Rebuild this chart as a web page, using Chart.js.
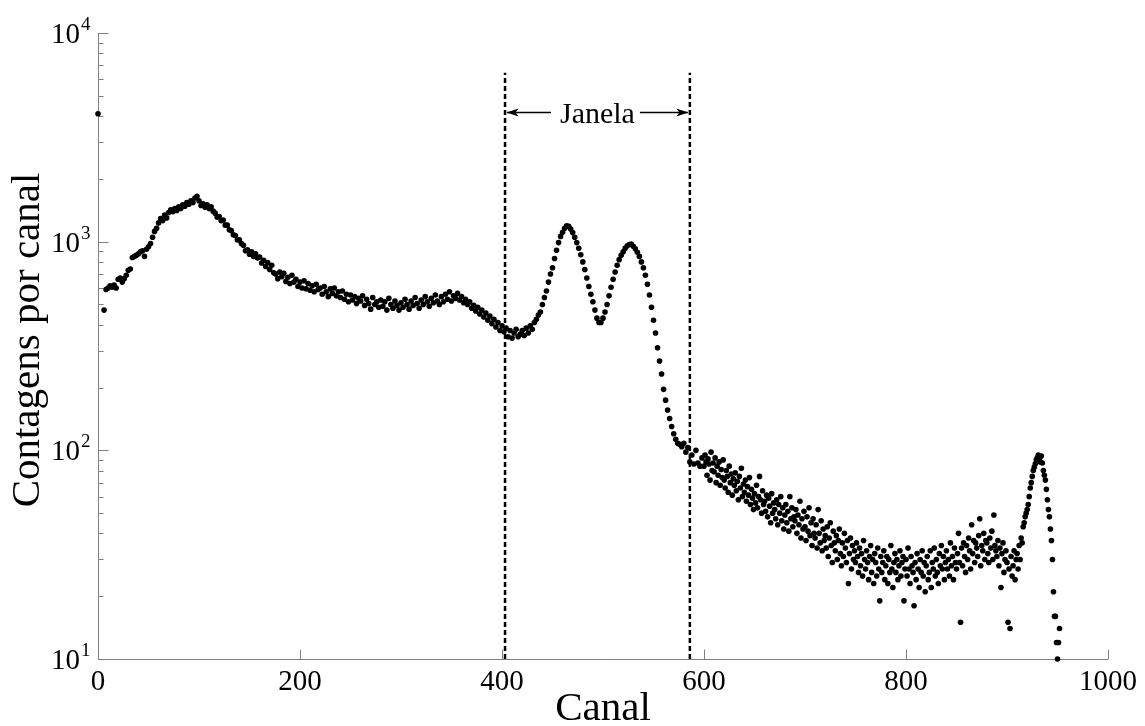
<!DOCTYPE html>
<html lang="pt">
<head>
<meta charset="UTF-8">
<title>Contagens por canal</title>
<script src="https://cdn.jsdelivr.net/npm/chart.js"></script>
<style>
  html, body { margin: 0; padding: 0; background: #fff; }
  canvas { display: block; }
</style>
</head>
<body>
<canvas id="spectrum" width="1145" height="726"></canvas>
<script>
// counts
// channels 0..598, one value every 2 channels (null = empty channel, not drawn on log axis)
var mainStep = 2;
var mainCounts = [
  4100, null, null, 470, 590, 600, 615, 605, 620, 600,
  660, 670, 640, 665, 690, 730, 740, 840, 850, 860,
  875, 895, 905, 850, 920, 945, 980, 1050, 1120, 1160,
  1230, 1290, 1260, 1340, 1300, 1380, 1420, 1390, 1440, 1410,
  1470, 1440, 1500, 1480, 1540, 1510, 1570, 1540, 1620, 1650,
  1570, 1490, 1520, 1460, 1500, 1440, 1470, 1400, 1370, 1310,
  1320, 1260, 1270, 1200, 1200, 1140, 1130, 1080, 1070, 1020,
  1020, 980, 960, 905, 915, 870, 895, 850, 875, 835,
  845, 790, 815, 760, 795, 735, 770, 710, 700, 665,
  715, 680, 705, 645, 675, 630, 690, 640, 660, 610,
  640, 600, 650, 595, 630, 585, 615, 575, 625, 590,
  600, 560, 610, 575, 545, 595, 565, 600, 550, 575,
  540, 580, 530, 560, 515, 555, 525, 545, 505, 535,
  520, 550, 495, 530, 505, 475, 540, 500, 515, 485,
  525, 490, 515, 470, 535, 500, 480, 520, 495, 470,
  510, 485, 530, 500, 475, 520, 495, 540, 505, 480,
  525, 500, 545, 515, 490, 535, 510, 555, 520, 500,
  545, 515, 560, 530, 575, 520, 550, 535, 565, 525,
  545, 510, 530, 500, 515, 480, 495, 465, 485, 450,
  470, 435, 455, 420, 440, 405, 425, 390, 410, 375,
  395, 370, 385, 350, 375, 345, 365, 380, 350, 360,
  375, 355, 385, 365, 395, 380, 410, 425, 445, 460,
  500, 540, 580, 640, 700, 750, 830, 910, 990, 1060,
  1110, 1160, 1190, 1185, 1150, 1105, 1050, 990, 930, 865,
  800, 735, 670, 610, 560, 515, 470, 430, 410, 410,
  430, 460, 500, 550, 605, 660, 715, 770, 820, 860,
  895, 930, 955, 970, 975, 950, 925, 890, 850, 800,
  750, 690, 625, 555, 485, 420, 365, 310, 268, 232,
  196, 174, 156, 142, 130, 120, 113, 108, 107, 104,
  108, 98, 103, 88, 95, 86, 100, 87, 84, 92
];
// channels 600..952, one value per channel
var tailStart = 600;
var tailCounts = [
  84, 95, 88, 76, 91, 86, 72, 98, 80, 87,
  79, 92, 70, 84, 76, 88, 68, 81, 74, 90,
  72, 66, 80, 75, 63, 84, 70, 77, 61, 73,
  68, 78, 64, 71, 58, 75, 66, 82, 60, 69,
  63, 72, 57, 67, 61, 74, 55, 65, 59, 52,
  62, 56, 68, 53, 60, 75, 58, 50, 64, 55,
  57, 51, 61, 48, 59, 54, 45, 62, 50, 56,
  52, 47, 58, 44, 55, 50, 60, 46, 53, 42,
  49, 55, 45, 51, 41, 60, 47, 53, 43, 48,
  46, 52, 40, 49, 44, 57, 38, 47, 42, 51,
  43, 37, 48, 41, 53, 39, 45, 35, 47, 40,
  38, 44, 34, 52, 40, 36, 46, 33, 42, 37,
  39, 34, 43, 31, 38, 45, 35, 29, 41, 36,
  33, 39, 30, 37, 42, 32, 28, 36, 31, 40,
  34, 29, 37, 23, 32, 38, 27, 35, 30, 33,
  29, 36, 31, 26, 34, 28, 32, 25, 37, 30,
  27, 33, 29, 24, 31, 35, 26, 30, 23, 32,
  29, 25, 34, 27, 19, 31, 26, 29, 33, 24,
  28, 31, 23, 30, 26, 35, 27, 22, 29, 32,
  26, 30, 24, 28, 33, 25, 29, 31, 19, 27,
  30, 25, 34, 27, 23, 31, 28, 26, 18, 29,
  24, 32, 27, 22, 30, 26, 33, 25, 29, 21,
  28, 31, 24, 26, 33, 22, 29, 27, 34, 25,
  30, 26, 23, 32, 28, 35, 27, 31, 24, 29,
  33, 27, 30, 25, 36, 28, 31, 24, 34, 29,
  27, 32, 40, 29, 15, 34, 28, 36, 31, 26,
  35, 30, 38, 33, 27, 44, 32, 37, 29, 36,
  34, 31, 39, 47, 28, 35, 33, 40, 30, 37,
  36, 32, 29, 38, 34, 41, 30, 49, 35, 33,
  31, 37, 28, 34, 22, 32, 36, 26, 30, 33,
  29, 15, 27, 14, 31, 25, 28, 33, 24, 30,
  32, 27, 35, 30, 38, 36, 43, 45, 48, 50,
  52, 55, 60, 66, 70, 75, 80, 83, 86, 90,
  92, 95, 91, 88, 94, 87, 80, 76, 72, 65,
  58, 52, 48, 42, 37, 30, 21, 16, 16, 12,
  10, 12, 14
];
var xTicks = [0, 200, 400, 600, 800, 1000];
var yDecades = [1, 2, 3, 4];
var windowEdges = [403, 586];
var windowTop = 6450;
var arrowLevel = 4200;
var xTitle = 'Canal';
var yTitle = 'Contagens por canal';
var windowLabel = 'Janela';

var points = [];
mainCounts.forEach(function (c, i) {
  if (c !== null) points.push({x: i * mainStep, y: c});
});
tailCounts.forEach(function (c, i) {
  points.push({x: tailStart + i, y: c});
});

var serif = '"Liberation Serif", "DejaVu Serif", serif';

var decor = {
  id: 'decor',
  beforeDatasetsDraw: function (chart) {
    var ctx = chart.ctx, xs = chart.scales.x, ys = chart.scales.y, a = chart.chartArea;
    var left = Math.round(a.left) + 0.5, bottom = Math.round(a.bottom) + 0.5;
    ctx.save();
    ctx.strokeStyle = '#808080';
    ctx.lineWidth = 1;
    ctx.beginPath();
    ctx.moveTo(left, a.top);
    ctx.lineTo(left, bottom);
    ctx.lineTo(a.right, bottom);
    xTicks.forEach(function (v) {
      var px = Math.round(xs.getPixelForValue(v)) + 0.5;
      ctx.moveTo(px, bottom);
      ctx.lineTo(px, bottom - 10);
    });
    yDecades.forEach(function (d, i) {
      var base = Math.pow(10, d);
      var py = Math.round(ys.getPixelForValue(base)) + 0.5;
      ctx.moveTo(left, py);
      ctx.lineTo(left + 10, py);
      if (i < yDecades.length - 1) {
        for (var m = 2; m <= 9; m++) {
          py = Math.round(ys.getPixelForValue(base * m)) + 0.5;
          ctx.moveTo(left, py);
          ctx.lineTo(left + 5, py);
        }
      }
    });
    ctx.stroke();

    // tick labels
    ctx.fillStyle = '#000';
    ctx.font = '29px ' + serif;
    ctx.textAlign = 'center';
    ctx.textBaseline = 'alphabetic';
    xTicks.forEach(function (v) {
      ctx.fillText(String(v), xs.getPixelForValue(v), bottom + 30);
    });
    yDecades.forEach(function (d) {
      var py = ys.getPixelForValue(Math.pow(10, d));
      ctx.font = '29px ' + serif;
      ctx.textAlign = 'right';
      ctx.fillText('10', a.left - 18, py + 10);
      ctx.font = '19px ' + serif;
      ctx.textAlign = 'left';
      ctx.fillText(String(d), a.left - 17, py - 3);
    });

    // axis titles
    ctx.font = '41px ' + serif;
    ctx.textAlign = 'center';
    ctx.fillText(xTitle, (a.left + a.right) / 2, 720);
    ctx.save();
    ctx.translate(39, 340);
    ctx.rotate(-Math.PI / 2);
    ctx.fillText(yTitle, 0, 0);
    ctx.restore();
    ctx.restore();
  },
  afterDatasetsDraw: function (chart) {
    var ctx = chart.ctx, xs = chart.scales.x, ys = chart.scales.y;
    var x1 = xs.getPixelForValue(windowEdges[0]);
    var x2 = xs.getPixelForValue(windowEdges[1]);
    var py = Math.round(ys.getPixelForValue(arrowLevel)) + 0.5;
    var mid = (x1 + x2) / 2;
    ctx.save();
    ctx.fillStyle = '#000';
    ctx.strokeStyle = '#000';
    ctx.font = '30px ' + serif;
    ctx.textAlign = 'center';
    ctx.textBaseline = 'alphabetic';
    ctx.fillText(windowLabel, mid, py + 10);
    var w = ctx.measureText(windowLabel).width;
    var l2 = mid - w / 2 - 9, r1 = mid + w / 2 + 5;
    ctx.lineWidth = 1.3;
    ctx.beginPath();
    ctx.moveTo(x1 + 2, py); ctx.lineTo(l2, py);
    ctx.moveTo(r1, py); ctx.lineTo(x2 - 2, py);
    ctx.stroke();
    function head(tip, dir) {
      ctx.beginPath();
      ctx.moveTo(tip, py);
      ctx.lineTo(tip - dir * 12, py - 4);
      ctx.lineTo(tip - dir * 9, py);
      ctx.lineTo(tip - dir * 12, py + 4);
      ctx.closePath();
      ctx.fill();
    }
    head(x1 + 1.5, -1);
    head(x2 - 1.5, 1);
    ctx.restore();
  }
};

function windowLine(ch) {
  return {
    data: [{x: ch, y: 10}, {x: ch, y: windowTop}],
    showLine: true,
    borderColor: '#000',
    borderWidth: 2.5,
    borderDash: [5, 3],
    pointRadius: 0,
    clip: false
  };
}

new Chart(document.getElementById('spectrum').getContext('2d'), {
  type: 'scatter',
  data: {
    datasets: [
      {
        data: points,
        pointRadius: 2.8,
        pointBackgroundColor: '#000',
        pointBorderWidth: 0,
        clip: false
      },
      windowLine(windowEdges[0]),
      windowLine(windowEdges[1])
    ]
  },
  options: {
    responsive: false,
    animation: false,
    layout: { padding: { left: 98, right: 37, top: 33, bottom: 67 } },
    plugins: { legend: { display: false }, tooltip: { enabled: false } },
    scales: {
      x: { type: 'linear', min: 0, max: 1000, display: false },
      y: { type: 'logarithmic', min: 10, max: 10000, display: false }
    }
  },
  plugins: [decor]
});
</script>
</body>
</html>
